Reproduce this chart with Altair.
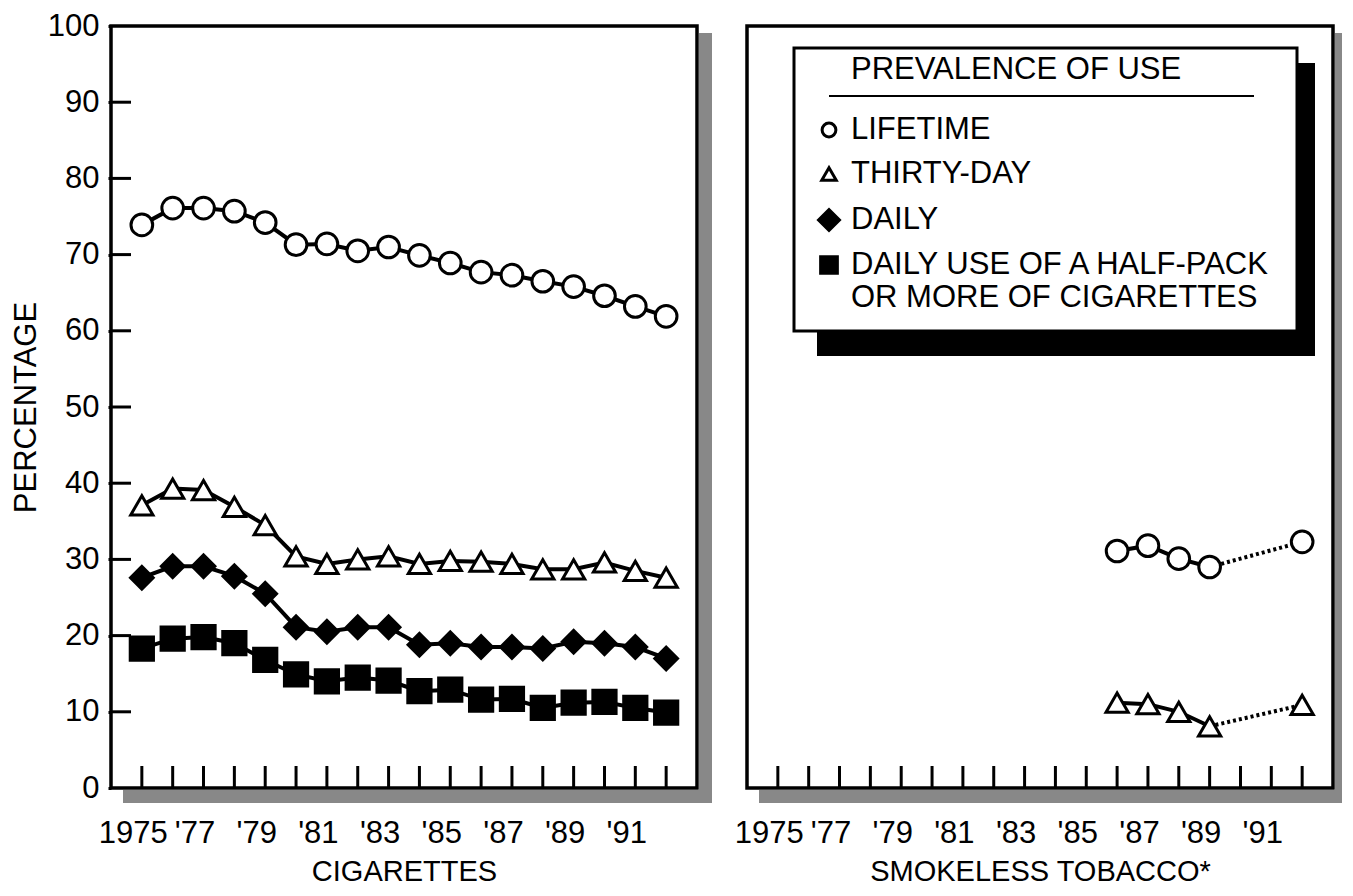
import json
import altair as alt
import pandas as pd

# ---------------- data ----------------
years = list(range(1975, 1993))
cig_lifetime = [73.9, 76.1, 76.1, 75.7, 74.2, 71.3, 71.4, 70.5, 71.0, 69.9, 68.9, 67.7, 67.3, 66.5, 65.8, 64.6, 63.2, 61.9]
cig_thirty = [37.1, 39.3, 39.1, 36.9, 34.5, 30.4, 29.4, 30.0, 30.4, 29.4, 29.8, 29.7, 29.4, 28.7, 28.7, 29.6, 28.5, 27.6]
cig_daily = [27.6, 29.1, 29.1, 27.8, 25.5, 21.1, 20.5, 21.1, 21.1, 18.8, 19.0, 18.5, 18.5, 18.3, 19.2, 19.0, 18.5, 17.0]
cig_halfpack = [18.3, 19.6, 19.8, 19.0, 16.8, 14.9, 14.0, 14.5, 14.1, 12.7, 12.9, 11.6, 11.7, 10.5, 11.2, 11.3, 10.5, 9.9]

smk_years = [1986, 1987, 1988, 1989, 1992]
smk_lifetime = [31.1, 31.8, 30.1, 29.0, 32.3]
smk_thirty = [11.2, 11.0, 10.0, 8.1, 10.9]
smk_break_year = 1989  # dotted line from this year on

measures = ["LIFETIME", "THIRTY-DAY", "DAILY", "DAILY USE OF A HALF-PACK OR MORE OF CIGARETTES"]
legend_lines = [["LIFETIME"], ["THIRTY-DAY"], ["DAILY"], ["DAILY USE OF A HALF-PACK", "OR MORE OF CIGARETTES"]]
legend_title = "PREVALENCE OF USE"

tick_years = list(range(1975, 1993))
label_years = [1975, 1977, 1979, 1981, 1983, 1985, 1987, 1989, 1991]
tick_labels = ["1975", "'77", "'79", "'81", "'83", "'85", "'87", "'89", "'91"]
y_ticks = list(range(0, 101, 10))
panel_titles = ["CIGARETTES", "SMOKELESS TOBACCO*"]
y_title = "PERCENTAGE"

# ---------------- styling ----------------
W, H = 586, 762
FONT = "Liberation Sans"
SHADOW = "#888888"
shapes = ["circle", "triangle-up", "diamond", "square"]
fills = ["white", "white", "black", "black"]
sizes = [470, 540, 680, 390]
leg_shapes_size = [190, 210, 440, 280]
LEG_FS = 31
LEG_LH = 33

cig_df = pd.DataFrame(
    [
        {"measure": m, "year": y, "value": v}
        for m, vals in zip(measures, [cig_lifetime, cig_thirty, cig_daily, cig_halfpack])
        for y, v in zip(years, vals)
    ]
)
smk_df = pd.DataFrame(
    [
        {"measure": m, "year": y, "value": v}
        for m, vals in zip(measures[:2], [smk_lifetime, smk_thirty])
        for y, v in zip(smk_years, vals)
    ]
)
smk_solid = smk_df[smk_df["year"] <= smk_break_year]
smk_dotted = smk_df[smk_df["year"] >= smk_break_year]

label_expr = "".join(
    f"datum.value == {y} ? {json.dumps(l)} : " for y, l in zip(label_years, tick_labels)
) + "''"

yscale = alt.Scale(domain=[0, 100], nice=False, zero=True)
xscale = alt.Scale(domain=[1974, 1993], nice=False, zero=False)


def xenc(title):
    return alt.X(
        "year:Q",
        scale=xscale,
        axis=alt.Axis(
            values=tick_years, labelExpr=label_expr, tickSize=0, labelPadding=30,
            labelOffset=-9, title=title, titlePadding=9, titleFontSize=29, grid=False, domain=False,
            labelOverlap=False, labelFlush=False, labelBound=False,
        ),
    )


y_left = alt.Y(
    "value:Q", scale=yscale,
    axis=alt.Axis(values=y_ticks, tickSize=3, tickWidth=3, tickColor="black",
                  labelPadding=9, title=y_title, titlePadding=5, titleFontSize=31,
                  grid=False, domain=False),
)
y_right = alt.Y("value:Q", scale=yscale, axis=None)

shape_enc = alt.Shape("measure:N", scale=alt.Scale(domain=measures, range=shapes), legend=None)
fill_enc = alt.Fill("measure:N", scale=alt.Scale(domain=measures, range=fills), legend=None)
size_enc = alt.Size("measure:N", scale=alt.Scale(domain=measures, range=sizes), legend=None)

one = pd.DataFrame({"k": [0]})


def panel(solid_df, dotted_df, X, Y, yticks, sh):
    layers = [
        alt.Chart(one).mark_rect(color=SHADOW).encode(
            x=alt.value(W + 2), x2=alt.value(W + sh), y=alt.value(7), y2=alt.value(H + 15)),
        alt.Chart(one).mark_rect(color=SHADOW).encode(
            x=alt.value(12), x2=alt.value(W + sh), y=alt.value(H + 2), y2=alt.value(H + 15)),
        alt.Chart(pd.DataFrame({"year": tick_years})).mark_rule(color="black", strokeWidth=3).encode(
            x=X, y=alt.value(H), y2=alt.value(H - 22)),
    ]
    if yticks:
        layers.append(
            alt.Chart(pd.DataFrame({"value": y_ticks[1:-1]})).mark_rule(color="black", strokeWidth=3).encode(
                y=Y, x=alt.value(0), x2=alt.value(20))
        )
    layers.append(
        alt.Chart(solid_df).mark_line(color="black", strokeWidth=4).encode(x=X, y=Y, detail="measure:N")
    )
    if dotted_df is not None:
        layers.append(
            alt.Chart(dotted_df).mark_line(color="black", strokeWidth=4, strokeDash=[3, 3]).encode(
                x=X, y=Y, detail="measure:N")
        )
    pts = solid_df if dotted_df is None else pd.concat([solid_df, dotted_df]).drop_duplicates()
    layers.append(
        alt.Chart(pts).mark_point(filled=True, opacity=1, stroke="black", strokeWidth=3).encode(
            x=X, y=Y, shape=shape_enc, fill=fill_enc, size=size_enc)
    )
    return layers


left = alt.layer(*panel(cig_df, None, xenc(panel_titles[0]), y_left, True, 15)).properties(width=W, height=H)

# legend box drawn inside the right panel
LX0, LX1, LY0, LY1 = 47, 550, 22, 305
TX = LX0 + 57
leg = [
    alt.Chart(one).mark_rect(color="black").encode(
        x=alt.value(LX0 + 23), x2=alt.value(LX1 + 18), y=alt.value(LY0 + 15), y2=alt.value(LY1 + 25)),
    alt.Chart(one).mark_rect(fill="white", stroke="black", strokeWidth=3).encode(
        x=alt.value(LX0), x2=alt.value(LX1), y=alt.value(LY0), y2=alt.value(LY1)),
    alt.Chart(pd.DataFrame({"t": [legend_title]})).mark_text(
        font=FONT, fontSize=LEG_FS, align="left", baseline="middle", color="black").encode(
        x=alt.value(TX), y=alt.value(LY0 + 22), text="t:N"),
    alt.Chart(one).mark_rule(color="black", strokeWidth=2).encode(
        x=alt.value(LX0 + 35), x2=alt.value(LX1 - 43), y=alt.value(LY0 + 48)),
]
row_y = [LY0 + 82, LY0 + 126, LY0 + 172, LY0 + 217]
for i, lines in enumerate(legend_lines):
    leg.append(
        alt.Chart(one).mark_point(
            shape=shapes[i], filled=True, fill=fills[i], stroke="black", strokeWidth=3,
            size=leg_shapes_size[i], opacity=1).encode(
            x=alt.value(LX0 + 35), y=alt.value(row_y[i]))
    )
    for j, line in enumerate(lines):
        leg.append(
            alt.Chart(pd.DataFrame({"t": [line]})).mark_text(
                font=FONT, fontSize=LEG_FS, align="left", baseline="middle", color="black").encode(
                x=alt.value(TX), y=alt.value(row_y[i] + LEG_LH * j), text="t:N")
        )

right = alt.layer(
    *panel(smk_solid, smk_dotted, xenc(panel_titles[1]), y_right, False, 9), *leg
).properties(width=W, height=H)

chart = (
    alt.hconcat(left, right, spacing=50, bounds="flush")
    .properties(padding={"left": 0, "top": 0, "right": 0, "bottom": 0}, background="white")
    .configure(font=FONT)
    .configure_view(stroke="black", strokeWidth=3.5)
    .configure_axis(labelFont=FONT, titleFont=FONT, labelFontSize=31, titleFontSize=29,
                    titleFontWeight="normal", labelColor="black", titleColor="black")
)

chart.save("out.html", embed_options={"renderer": "svg", "actions": False})
